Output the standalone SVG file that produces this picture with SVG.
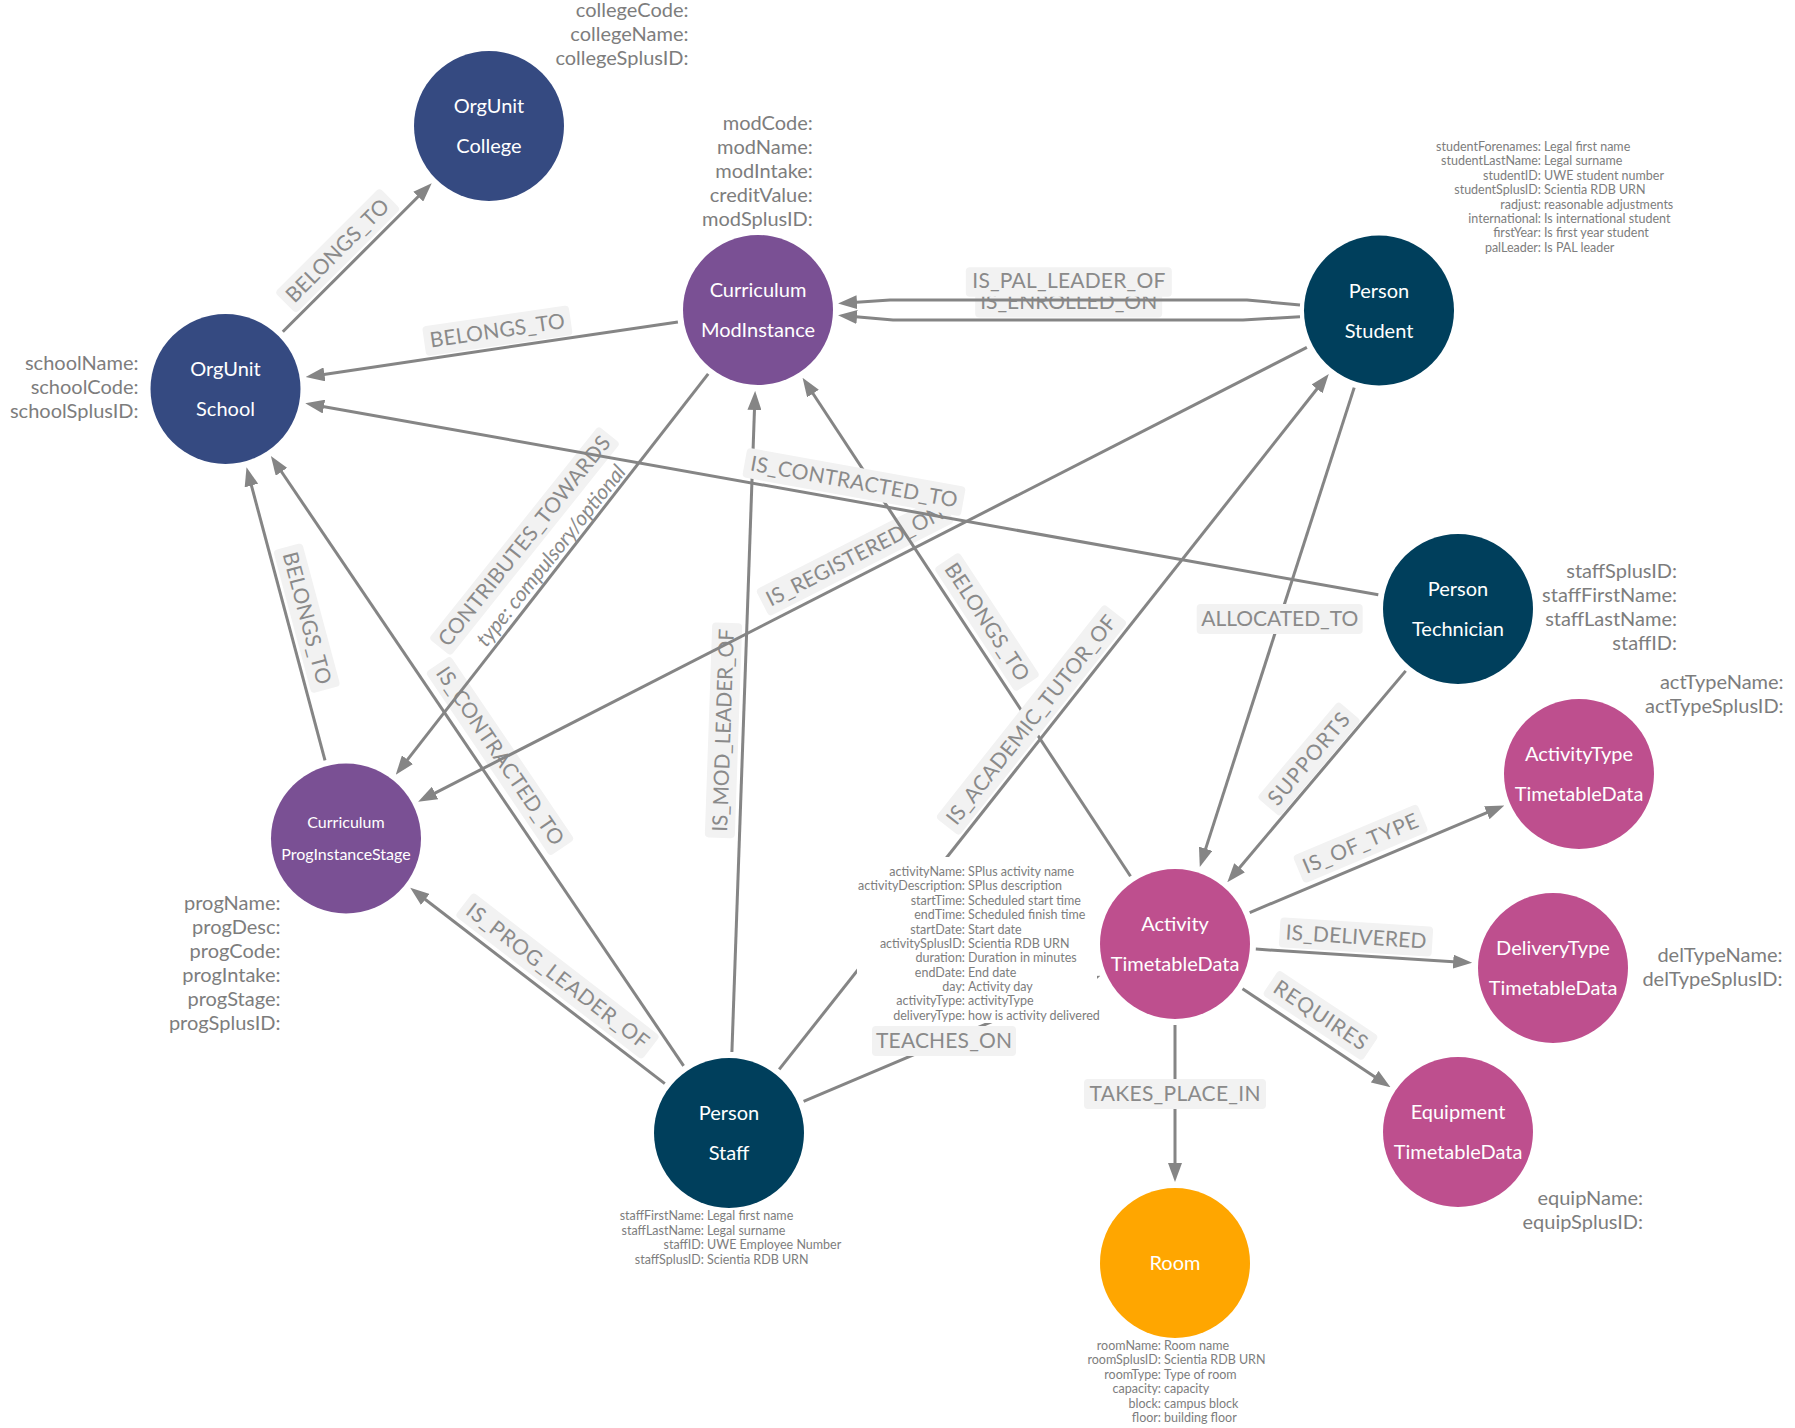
<svg xmlns="http://www.w3.org/2000/svg" width="1795" height="1428" viewBox="0 0 1795 1428">
<style>
text{font-family:Lato,"Liberation Sans",sans-serif}
.bg{fill:#ffffff}
.ln{fill:none;stroke:#858585;stroke-width:3;marker-end:url(#arr)}
.lb rect{fill:#f2f2f2}
.lb text{font-size:21px;fill:#8a8a8a;text-anchor:middle}
.nl{font-size:20px;fill:#ffffff;text-anchor:middle}
.nls{font-size:16px;fill:#ffffff;text-anchor:middle}
.pr{font-size:20px;fill:#7d7d7d;text-anchor:end}
.sk{font-size:12.5px;fill:#7d7d7d;text-anchor:end}
.sv{font-size:12.5px;fill:#7d7d7d;text-anchor:start}
.org{fill:#354a81}
.cur{fill:#7a5094}
.per{fill:#003f5c}
.tt{fill:#be4f8e}
.room{fill:#ffa600}
</style>
<defs>
<marker id="arr" markerUnits="userSpaceOnUse" viewBox="0 0 19 14" markerWidth="19" markerHeight="14" refX="4" refY="7" orient="auto">
<path d="M0,0 L19,7 L0,14 Z" fill="#858585"/>
</marker>
</defs>
<rect class="bg" x="0" y="0" width="1795" height="1428"/>

<g id="connectors">
 <g id="e-school-college"><path class="ln" d="M282.8,331.8 L421.1,193.8"/>
  <g class="lb" transform="translate(337.7,250.7) rotate(-45)"><rect x="-74" y="-15" width="148" height="30" rx="4"/><text y="7" textLength="136">BELONGS_TO</text></g></g>
 <g id="e-mod-school"><path class="ln" d="M677.9,321.9 L320.5,374.9"/>
  <g class="lb" transform="translate(497.4,330.8) rotate(-8.3)"><rect x="-74" y="-15" width="148" height="30" rx="4"/><text y="7" textLength="136">BELONGS_TO</text></g></g>
 <g id="e-prog-school"><path class="ln" d="M325,760.3 L250.4,481.7"/>
  <g class="lb" transform="translate(306.8,618.2) rotate(75)"><rect x="-74" y="-15" width="148" height="30" rx="4"/><text y="7" textLength="136">BELONGS_TO</text></g></g>
 <g id="e-staff-prog"><path class="ln" d="M664.8,1083.6 L422.1,897"/>
  <g class="lb" transform="translate(557.5,976) rotate(37.6)"><rect x="-118" y="-15" width="236" height="30" rx="4"/><text y="7" textLength="224">IS_PROG_LEADER_OF</text></g></g>
 <g id="e-staff-school"><path class="ln" d="M683.6,1065.9 L279.3,468.5"/>
  <g class="lb" transform="translate(500,756) rotate(55.9)"><rect x="-111" y="-15" width="222" height="30" rx="4"/><text y="7" textLength="210">IS_CONTRACTED_TO</text></g></g>
 <g id="e-mod-prog">
  <g class="lb" transform="translate(524.5,541) rotate(-51.4)"><rect x="-136" y="-14" width="272" height="28" rx="4"/><text y="7" textLength="262">CONTRIBUTES_TOWARDS</text><text x="5" y="37" font-size="19" font-style="italic" textLength="225">type: compulsory/optional</text></g>
  <path class="ln" d="M708.2,373.9 L405,762.8"/></g>
 <g id="e-staff-mod"><path class="ln" d="M731.9,1052 L754.6,405.9"/>
  <g class="lb" transform="translate(723.5,730.4) rotate(-88)"><rect x="-107.5" y="-15" width="215" height="30" rx="4"/><text y="7" textLength="203">IS_MOD_LEADER_OF</text></g></g>
 <g id="e-student-prog"><path class="ln" d="M1306.9,347.4 L431.5,794.8"/>
  <g class="lb" transform="translate(855,556) rotate(-27)"><rect x="-104" y="-15" width="208" height="30" rx="4"/><text y="7" textLength="196">IS_REGISTERED_ON</text></g></g>
 <g id="e-activity-mod"><path class="ln" d="M1130.5,876.3 L810.8,390.2"/>
  <g class="lb" transform="translate(987,622) rotate(56.7)"><rect x="-74" y="-15" width="148" height="30" rx="4"/><text y="7" textLength="136">BELONGS_TO</text></g></g>
 <g id="e-tech-school"><path class="ln" d="M1378.3,594.8 L320,405.9"/>
  <g class="lb" transform="translate(854,482) rotate(10.2)"><rect x="-111" y="-15" width="222" height="30" rx="4"/><text y="7" textLength="210">IS_CONTRACTED_TO</text></g></g>
 <g id="e-staff-student"><path class="ln" d="M779.2,1069.4 L1319.5,385.8"/>
  <g class="lb" transform="translate(1031.5,720) rotate(-51.7)"><rect x="-136" y="-15" width="272" height="30" rx="4"/><text y="7" textLength="260">IS_ACADEMIC_TUTOR_OF</text></g></g>
 <g id="e-staff-activity"><path class="ln" d="M803.6,1101.4 L1086.6,981.5"/>
  <g class="lb" transform="translate(944,1041)"><rect x="-72" y="-15" width="144" height="30" rx="4"/><text y="7" textLength="136">TEACHES_ON</text></g></g>
 <g id="e-student-mod-enrolled"><path class="ln" d="M1300,316.7 L1243,320 L893,320 L853,316.6"/>
  <g class="lb" transform="translate(1068.7,302.7)"><rect x="-93.5" y="-14.7" width="187" height="29.4" rx="4"/><text y="6.5" textLength="177">IS_ENROLLED_ON</text></g></g>
 <g id="e-student-mod-pal"><path class="ln" d="M1300,305 L1247,300 L890,300 L853,302.5"/>
  <g class="lb" transform="translate(1068.8,282)"><rect x="-103" y="-14.7" width="206" height="29.4" rx="4"/><text y="6" textLength="193">IS_PAL_LEADER_OF</text></g></g>
 <g id="e-student-activity"><path class="ln" d="M1354.2,387.6 L1204.4,852.6"/>
  <g class="lb" transform="translate(1279.7,619)"><rect x="-83" y="-15" width="166" height="30" rx="4"/><text y="7" textLength="157">ALLOCATED_TO</text></g></g>
 <g id="e-tech-activity"><path class="ln" d="M1405.7,670.9 L1237,870.7"/>
  <g class="lb" transform="translate(1309,759) rotate(-49.8)"><rect x="-63" y="-15" width="126" height="30" rx="4"/><text y="7" textLength="114">SUPPORTS</text></g></g>
 <g id="e-activity-acttype"><path class="ln" d="M1249.7,912.6 L1490.5,811.2"/>
  <g class="lb" transform="translate(1360.6,843.7) rotate(-22.8)"><rect x="-67.5" y="-15" width="135" height="30" rx="4"/><text y="7" textLength="123">IS_OF_TYPE</text></g></g>
 <g id="e-activity-deltype"><path class="ln" d="M1255.8,949.1 L1457.2,961.9"/>
  <g class="lb" transform="translate(1356,937) rotate(3.6)"><rect x="-76.5" y="-15" width="153" height="30" rx="4"/><text y="7" textLength="141">IS_DELIVERED</text></g></g>
 <g id="e-activity-equip"><path class="ln" d="M1242.5,988.8 L1378,1078.9"/>
  <g class="lb" transform="translate(1320.5,1015.4) rotate(33.6)"><rect x="-60" y="-15" width="120" height="30" rx="4"/><text y="7" textLength="108">REQUIRES</text></g></g>
 <g id="e-activity-room"><path class="ln" d="M1175,1025 L1175,1167"/>
  <g class="lb" transform="translate(1175,1094)"><rect x="-91" y="-15" width="182" height="30" rx="4"/><text y="7" textLength="171">TAKES_PLACE_IN</text></g></g>
</g>

<g id="node-college">
 <circle class="org" cx="489" cy="126" r="75"/>
 <text class="nl" x="489" y="113">OrgUnit</text><text class="nl" x="489" y="153">College</text>
 <text class="pr"><tspan x="688.5" y="17.3">collegeCode:</tspan><tspan x="688.5" y="41.3">collegeName:</tspan><tspan x="688.5" y="65.3">collegeSplusID:</tspan></text>
</g>
<g id="node-school">
 <circle class="org" cx="225.5" cy="389" r="75"/>
 <text class="nl" x="225.5" y="376">OrgUnit</text><text class="nl" x="225.5" y="416">School</text>
 <text class="pr"><tspan x="138.5" y="369.5">schoolName:</tspan><tspan x="138.5" y="393.5">schoolCode:</tspan><tspan x="138.5" y="417.5">schoolSplusID:</tspan></text>
</g>
<g id="node-modinstance">
 <circle class="cur" cx="758" cy="310" r="75"/>
 <text class="nl" x="758" y="297">Curriculum</text><text class="nl" x="758" y="337">ModInstance</text>
 <text class="pr"><tspan x="812.8" y="130">modCode:</tspan><tspan x="812.8" y="154">modName:</tspan><tspan x="812.8" y="178">modIntake:</tspan><tspan x="812.8" y="202">creditValue:</tspan><tspan x="812.8" y="226">modSplusID:</tspan></text>
</g>
<g id="node-student">
 <circle class="per" cx="1379" cy="310.5" r="75"/>
 <text class="nl" x="1379" y="297.5">Person</text><text class="nl" x="1379" y="337.5">Student</text>
 <text class="sk"><tspan x="1541" y="151">studentForenames:</tspan><tspan x="1541" y="165.4">studentLastName:</tspan><tspan x="1541" y="179.8">studentID:</tspan><tspan x="1541" y="194.2">studentSplusID:</tspan><tspan x="1541" y="208.6">radjust:</tspan><tspan x="1541" y="223">international:</tspan><tspan x="1541" y="237.4">firstYear:</tspan><tspan x="1541" y="251.8">palLeader:</tspan></text>
 <text class="sv"><tspan x="1544" y="151">Legal first name</tspan><tspan x="1544" y="165.4">Legal surname</tspan><tspan x="1544" y="179.8">UWE student number</tspan><tspan x="1544" y="194.2">Scientia RDB URN</tspan><tspan x="1544" y="208.6">reasonable adjustments</tspan><tspan x="1544" y="223">Is international student</tspan><tspan x="1544" y="237.4">Is first year student</tspan><tspan x="1544" y="251.8">Is PAL leader</tspan></text>
</g>
<g id="node-technician">
 <circle class="per" cx="1458" cy="609" r="75"/>
 <text class="nl" x="1458" y="596">Person</text><text class="nl" x="1458" y="636">Technician</text>
 <text class="pr"><tspan x="1677" y="577.5">staffSplusID:</tspan><tspan x="1677" y="601.5">staffFirstName:</tspan><tspan x="1677" y="625.5">staffLastName:</tspan><tspan x="1677" y="649.5">staffID:</tspan></text>
</g>
<g id="node-activitytype">
 <circle class="tt" cx="1579" cy="774" r="75"/>
 <text class="nl" x="1579" y="761">ActivityType</text><text class="nl" x="1579" y="801">TimetableData</text>
 <text class="pr"><tspan x="1783.6" y="688.5">actTypeName:</tspan><tspan x="1783.6" y="712.5">actTypeSplusID:</tspan></text>
</g>
<g id="node-proginstancestage">
 <circle class="cur" cx="346" cy="838.5" r="75"/>
 <text class="nls" x="346" y="828">Curriculum</text><text class="nls" x="346" y="860">ProgInstanceStage</text>
 <text class="pr"><tspan x="280.5" y="909.5">progName:</tspan><tspan x="280.5" y="933.5">progDesc:</tspan><tspan x="280.5" y="957.5">progCode:</tspan><tspan x="280.5" y="981.5">progIntake:</tspan><tspan x="280.5" y="1005.5">progStage:</tspan><tspan x="280.5" y="1029.5">progSplusID:</tspan></text>
</g>
<g id="node-activity">
 <rect class="bg" x="857" y="857" width="240" height="166"/>
 <text class="sk"><tspan x="965" y="876">activityName:</tspan><tspan x="965" y="890.4">activityDescription:</tspan><tspan x="965" y="904.7">startTime:</tspan><tspan x="965" y="919.1">endTime:</tspan><tspan x="965" y="933.5">startDate:</tspan><tspan x="965" y="947.9">activitySplusID:</tspan><tspan x="965" y="962.2">duration:</tspan><tspan x="965" y="976.6">endDate:</tspan><tspan x="965" y="991">day:</tspan><tspan x="965" y="1005.4">activityType:</tspan><tspan x="965" y="1019.7">deliveryType:</tspan></text>
 <text class="sv"><tspan x="968" y="876">SPlus activity name</tspan><tspan x="968" y="890.4">SPlus description</tspan><tspan x="968" y="904.7">Scheduled start time</tspan><tspan x="968" y="919.1">Scheduled finish time</tspan><tspan x="968" y="933.5">Start date</tspan><tspan x="968" y="947.9">Scientia RDB URN</tspan><tspan x="968" y="962.2">Duration in minutes</tspan><tspan x="968" y="976.6">End date</tspan><tspan x="968" y="991">Activity day</tspan><tspan x="968" y="1005.4">activityType</tspan><tspan x="968" y="1019.7">how is activity delivered</tspan></text>
 <circle class="tt" cx="1175" cy="944" r="75"/>
 <text class="nl" x="1175" y="931">Activity</text><text class="nl" x="1175" y="971">TimetableData</text>
</g>
<g id="node-deliverytype">
 <circle class="tt" cx="1553" cy="968" r="75"/>
 <text class="nl" x="1553" y="955">DeliveryType</text><text class="nl" x="1553" y="995">TimetableData</text>
 <text class="pr"><tspan x="1782.5" y="961.5">delTypeName:</tspan><tspan x="1782.5" y="985.5">delTypeSplusID:</tspan></text>
</g>
<g id="node-equipment">
 <circle class="tt" cx="1458" cy="1132" r="75"/>
 <text class="nl" x="1458" y="1119">Equipment</text><text class="nl" x="1458" y="1159">TimetableData</text>
 <text class="pr"><tspan x="1643" y="1205">equipName:</tspan><tspan x="1643" y="1229">equipSplusID:</tspan></text>
</g>
<g id="node-staff">
 <circle class="per" cx="729" cy="1133" r="75"/>
 <text class="nl" x="729" y="1120">Person</text><text class="nl" x="729" y="1160">Staff</text>
 <text class="sk"><tspan x="704" y="1220">staffFirstName:</tspan><tspan x="704" y="1234.5">staffLastName:</tspan><tspan x="704" y="1249">staffID:</tspan><tspan x="704" y="1263.5">staffSplusID:</tspan></text>
 <text class="sv"><tspan x="707" y="1220">Legal first name</tspan><tspan x="707" y="1234.5">Legal surname</tspan><tspan x="707" y="1249">UWE Employee Number</tspan><tspan x="707" y="1263.5">Scientia RDB URN</tspan></text>
</g>
<g id="node-room">
 <circle class="room" cx="1175" cy="1263" r="75"/>
 <text class="nl" x="1175" y="1270">Room</text>
 <text class="sk"><tspan x="1161" y="1350">roomName:</tspan><tspan x="1161" y="1364.4">roomSplusID:</tspan><tspan x="1161" y="1378.8">roomType:</tspan><tspan x="1161" y="1393.2">capacity:</tspan><tspan x="1161" y="1407.6">block:</tspan><tspan x="1161" y="1422">floor:</tspan></text>
 <text class="sv"><tspan x="1164" y="1350">Room name</tspan><tspan x="1164" y="1364.4">Scientia RDB URN</tspan><tspan x="1164" y="1378.8">Type of room</tspan><tspan x="1164" y="1393.2">capacity</tspan><tspan x="1164" y="1407.6">campus block</tspan><tspan x="1164" y="1422">building floor</tspan></text>
</g>
</svg>
